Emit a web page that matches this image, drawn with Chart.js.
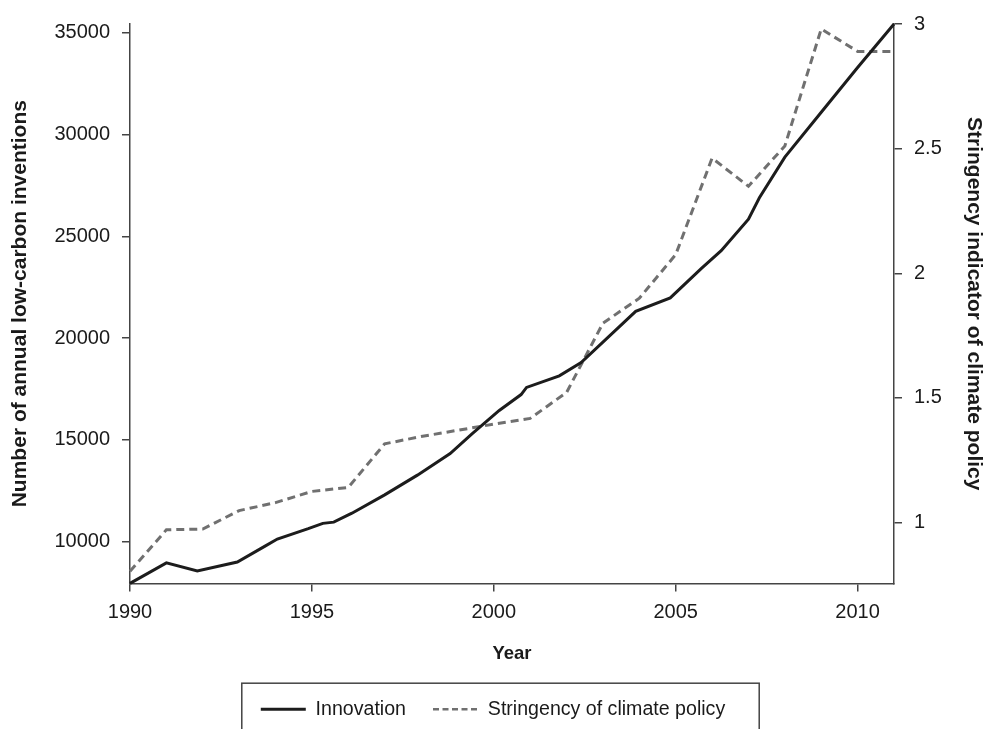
<!DOCTYPE html>
<html>
<head>
<meta charset="utf-8">
<script src="https://cdn.jsdelivr.net/npm/chart.js@4/dist/chart.umd.min.js"></script>
<style>
  body { margin: 0; background: #fff; }
</style>
</head>
<body>
<canvas id="chart" width="986" height="729"></canvas>
<script>
// Innovation (left axis), some kinks fall between years
const innovYears = [1990, 1991, 1991.85, 1992.95, 1993.7, 1994.05, 1994.9, 1995.3, 1995.6, 1996.1,
    1997, 1997.9, 1998.8, 1999.4, 2000.15, 2000.75, 2000.9, 2001.8, 2002.4, 2003.9,
    2004.85, 2005.7, 2006.25, 2007, 2007.3, 2008, 2009, 2010, 2011];
const innovValues = [7950, 8960, 8560, 9000, 9770, 10130, 10640, 10900, 10960, 11400,
    12300, 13270, 14330, 15300, 16450, 17230, 17580, 18150, 18800, 21320,
    21980, 23420, 24300, 25850, 26900, 28900, 31100, 33300, 35440];

// Stringency of climate policy (right axis), one value per year
const policyYears = [1990, 1991, 1992, 1993, 1994, 1995, 1996, 1997, 1998, 1999, 2000,
    2001, 2002, 2003, 2004, 2005, 2006, 2007, 2008, 2009, 2010, 2011];
const policyValues = [0.805, 0.971, 0.974, 1.048, 1.08, 1.125, 1.141, 1.316, 1.345, 1.37, 1.395,
    1.418, 1.522, 1.80, 1.90, 2.075, 2.462, 2.349, 2.511, 2.98, 2.89, 2.89];

const yearTicks = [1990, 1995, 2000, 2005, 2010];
const leftTicks = [10000, 15000, 20000, 25000, 30000, 35000];
const rightTicks = [1, 1.5, 2, 2.5, 3];

const FONT = '"Liberation Sans", Arial, Helvetica, sans-serif';
const AXIS = '#444';
const TEXT = '#1a1a1a';

// box around the legend, open at the bottom like the original
const legendFrame = {
    id: 'legendFrame',
    afterDraw(chart) {
        const boxes = chart.legend.legendHitBoxes;
        if (!boxes || !boxes.length) return;
        const first = boxes[0];
        const last = boxes[boxes.length - 1];
        const ctx = chart.ctx;
        const cy = first.top + first.height / 2;
        const left = first.left - 19;
        const right = last.left + last.width + 34;
        const top = cy - 26;
        ctx.save();
        ctx.strokeStyle = AXIS;
        ctx.lineWidth = 1.5;
        ctx.strokeRect(left, top, right - left, 100);
        ctx.restore();
    }
};

function fixTicks(list) {
    return scale => { scale.ticks = list.map(v => ({ value: v })); };
}

// point-style legend items lose the dataset dash, put it back
function legendLabels(chart) {
    const items = Chart.defaults.plugins.legend.labels.generateLabels(chart);
    return items.map(item => {
        const ds = chart.data.datasets[item.datasetIndex];
        item.strokeStyle = ds.borderColor;
        item.lineDash = ds.borderDash ? [6, 3.5] : [];
        item.lineWidth = ds.borderDash ? 2.5 : 3;
        return item;
    });
}

const ctx = document.getElementById('chart').getContext('2d');
new Chart(ctx, {
    type: 'line',
    data: {
        datasets: [
            {
                label: 'Innovation',
                data: innovYears.map((x, i) => ({ x: x, y: innovValues[i] })),
                yAxisID: 'y',
                borderColor: '#1c1c1c',
                backgroundColor: '#1c1c1c',
                borderWidth: 3,
                pointRadius: 0,
                tension: 0,
                clip: false
            },
            {
                label: 'Stringency of climate policy',
                data: policyYears.map((x, i) => ({ x: x, y: policyValues[i] })),
                yAxisID: 'y1',
                borderColor: '#707070',
                backgroundColor: '#707070',
                borderWidth: 3,
                borderDash: [8, 5],
                pointRadius: 0,
                tension: 0,
                clip: false
            }
        ]
    },
    options: {
        responsive: false,
        animation: false,
        devicePixelRatio: 1,
        layout: { padding: { top: 21, left: 0, right: 0, bottom: 0 } },
        plugins: {
            tooltip: { enabled: false },
            legend: {
                position: 'bottom',
                labels: {
                    usePointStyle: true,
                    pointStyle: 'line',
                    pointStyleWidth: 45,
                    padding: 27,
                    color: TEXT,
                    font: { family: FONT, size: 19.6 },
                    generateLabels: legendLabels
                }
            }
        },
        scales: {
            x: {
                type: 'linear',
                min: 1990,
                max: 2011,
                afterBuildTicks: fixTicks(yearTicks),
                afterFit: scale => { scale.height = 89; },
                grid: { drawOnChartArea: false, drawTicks: true, tickLength: 8, color: AXIS, lineWidth: 1.5 },
                border: { display: true, color: AXIS, width: 1.5 },
                ticks: {
                    padding: 9,
                    color: TEXT,
                    font: { family: FONT, size: 20 },
                    callback: v => String(v)
                },
                title: {
                    display: true,
                    text: 'Year',
                    color: TEXT,
                    padding: { top: 0, bottom: 7 },
                    font: { family: FONT, size: 18.5, weight: 'bold' }
                }
            },
            y: {
                type: 'linear',
                position: 'left',
                min: 7950,
                max: 35440,
                afterBuildTicks: fixTicks(leftTicks),
                afterFit: scale => { scale.width = 130; },
                grid: { drawOnChartArea: false, drawTicks: true, tickLength: 8, color: AXIS, lineWidth: 1.5 },
                border: { display: true, color: AXIS, width: 1.5 },
                ticks: {
                    padding: 12,
                    color: TEXT,
                    font: { family: FONT, size: 20 },
                    callback: v => String(v)
                },
                title: {
                    display: true,
                    text: 'Number of annual low-carbon inventions',
                    color: TEXT,
                    padding: { top: 8, bottom: 0 },
                    font: { family: FONT, size: 21, weight: 'bold' }
                }
            },
            y1: {
                type: 'linear',
                position: 'right',
                min: 0.756,
                max: 3.0,
                afterBuildTicks: fixTicks(rightTicks),
                afterFit: scale => { scale.width = 92; },
                grid: { drawOnChartArea: false, drawTicks: true, tickLength: 8, color: AXIS, lineWidth: 1.5 },
                border: { display: true, color: AXIS, width: 1.5 },
                ticks: {
                    padding: 12,
                    color: TEXT,
                    font: { family: FONT, size: 20 },
                    callback: v => String(v)
                },
                title: {
                    display: true,
                    text: 'Stringency indicator of climate policy',
                    color: TEXT,
                    padding: { top: 0, bottom: 0 },
                    font: { family: FONT, size: 21, weight: 'bold' }
                }
            }
        }
    },
    plugins: [legendFrame]
});
</script>
</body>
</html>
